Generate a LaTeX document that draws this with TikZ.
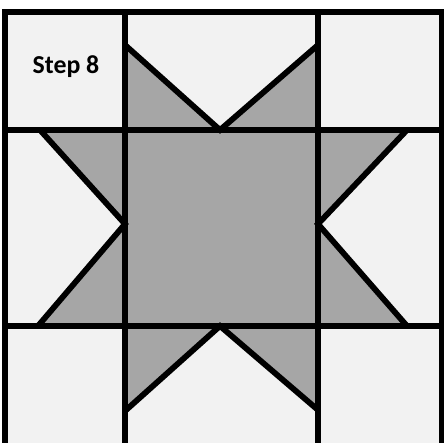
\documentclass[tikz,border=0pt]{standalone}
\usepackage{fontspec}
\setsansfont{Carlito}
\usetikzlibrary{positioning}
\definecolor{ink}{HTML}{000000}
\definecolor{patch}{HTML}{F2F2F2}
\definecolor{starc}{HTML}{A6A6A6}
\tikzset{
  seam/.style={ink,line width=3.3pt,line cap=rect},
  point/.style={ink,line width=3.3pt,line join=miter},
  lbl/.style={font=\sffamily\bfseries\fontsize{14.7}{17}\selectfont},
}
\begin{document}
\begin{tikzpicture}[x=0.02cm,y=-0.02cm]
  \useasboundingbox (0,0) rectangle (444,443);
  % ===================== cells =====================
  \fill[patch] (5,12) rectangle (442,443);
  % ===================== star =====================
  \fill[starc] (125,130) -- (125,45) -- (220,130) -- (318,45) -- (318,130)
    -- (407,130) -- (318,224) -- (407,326) -- (318,326) -- (318,410)
    -- (220,326) -- (125,411) -- (125,326) -- (38,326) -- (125,224)
    -- (40,130) -- cycle;
  % ===================== grid =====================
  \foreach \x in {5,125,318,442} \draw[seam] (\x,12) -- (\x,443);
  \foreach \y in {12,130,326} \draw[seam] (5,\y) -- (442,\y);
  % ===================== star points =====================
  \draw[point] (125,45) -- (220,130) -- (318,45);
  \draw[point] (407,130) -- (318,224) -- (407,326);
  \draw[point] (318,410) -- (220,326) -- (125,411);
  \draw[point] (38,326) -- (125,224) -- (40,130);
  \node[lbl] (step) at (66,67) {Step 8};
\end{tikzpicture}
\end{document}
